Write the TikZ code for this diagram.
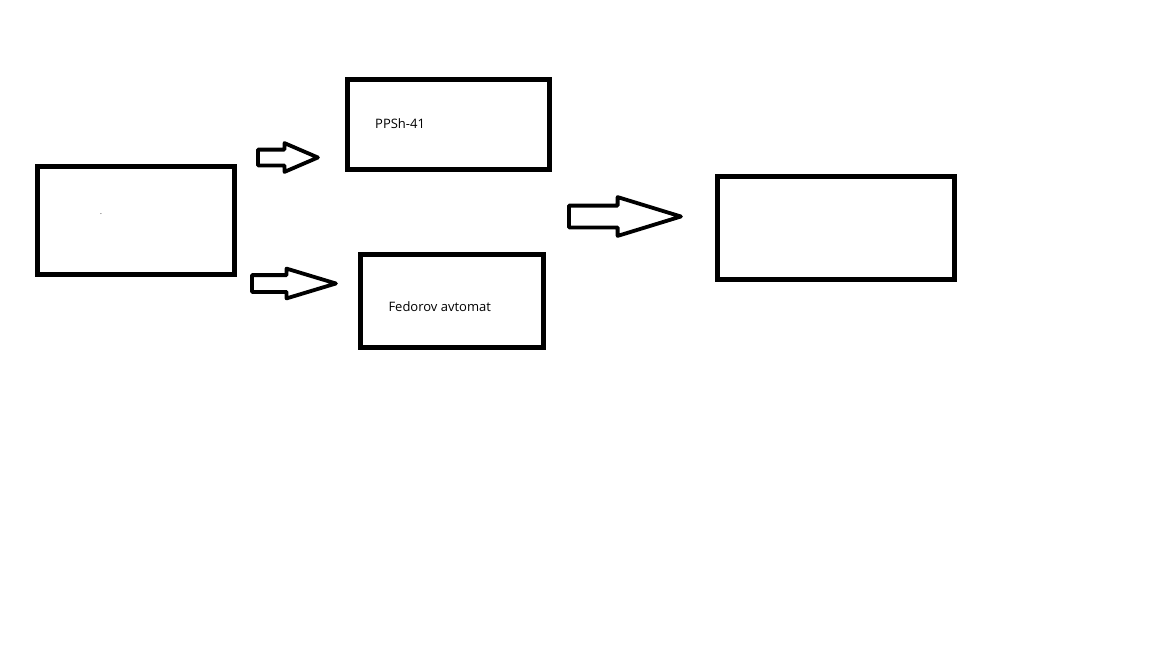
\documentclass[tikz,border=0pt]{standalone}
\usepackage{fontspec}
\setmainfont{Open Sans}
\usetikzlibrary{shapes.arrows}

\tikzset{
  box/.style={draw, rectangle, line width=5pt, inner sep=0pt},
  fat/.style={draw, single arrow, anchor=tail, line width=3.8pt, line join=round,
    inner xsep=0pt, shape border rotate=0},
  lbl/.style={anchor=base west, inner sep=0pt, font=\fontsize{13}{15}\selectfont}
}

\begin{document}
\begin{tikzpicture}[x=1pt, y=-1pt]
  \useasboundingbox[fill=white] (0,0) rectangle (1152,648);

  % Define nodes
  \node[box, minimum width=196.5pt, minimum height=107.5pt] (start) at (135.75,220.25) {};
  \node[box, minimum width=201.5pt, minimum height=90pt]    (ppsh)  at (448.25,124) {};
  \node[box, minimum width=183pt,   minimum height=93pt]    (fed)   at (451.5,301) {};
  \node[box, minimum width=236.5pt, minimum height=103pt]   (goal)  at (835.75,227.5) {};

  \node[lbl] (tppsh) at (375,128.3) {PPSh-41};
  \node[lbl] (tfed)  at (388.3,311.7) {Fedorov avtomat};
  \node[inner sep=0pt, font=\fontsize{7}{8}\selectfont] (dot) at (101,214) {.};

  % Block arrows
  \node[fat, inner ysep=6pt, minimum height=60pt, single arrow head extend=6.5pt,
    single arrow tip angle=46.6] (up) at (256,157.5) {};
  \node[fat, inner ysep=6.5pt, minimum height=84pt, single arrow head extend=6.5pt,
    single arrow tip angle=33.6] (down) at (250,283.5) {};
  \node[fat, inner ysep=9pt, minimum height=112pt, single arrow head extend=8.5pt,
    single arrow tip angle=34.1] (join) at (567,216.5) {};

\end{tikzpicture}
\end{document}
